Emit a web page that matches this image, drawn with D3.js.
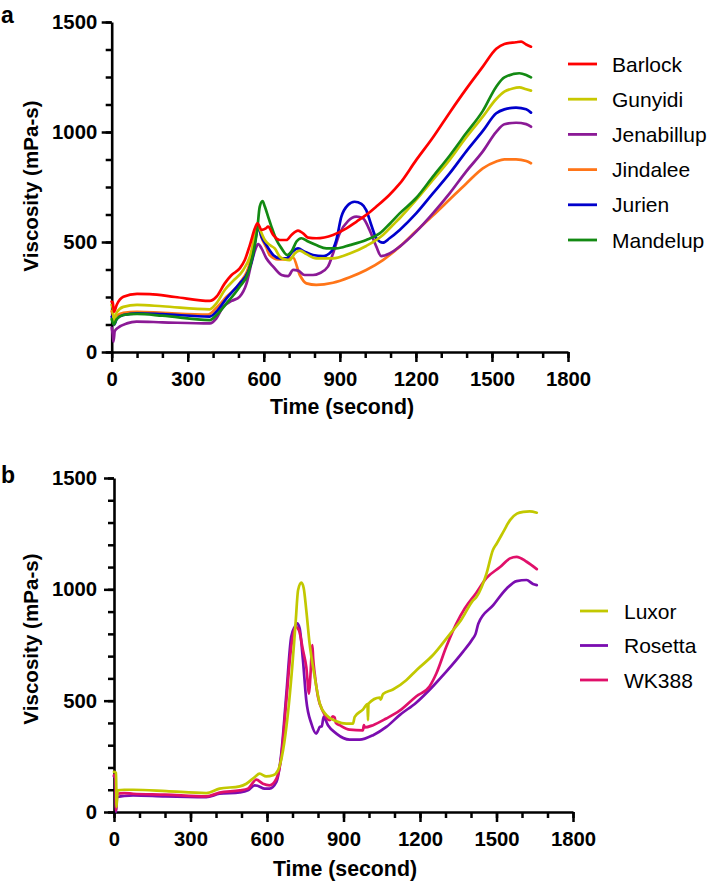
<!DOCTYPE html>
<html><head><meta charset="utf-8">
<script src="https://cdn.jsdelivr.net/npm/d3@7"></script>
<style>
body{margin:0;background:#fff;}
svg{display:block;font-family:"Liberation Sans",Arial,sans-serif;}
</style></head>
<body><svg id="c" width="709" height="886"></svg>
<script>
// ---------- Panel a data: [time (s), viscosity (mPa-s)] ----------
const seriesA = ["Barlock","Gunyidi","Jenabillup","Jindalee","Jurien","Mandelup"];
const colorsA = ["#ff0000","#c8c800","#8b1a96","#ff7518","#0000cc","#138a13"];
const barlock = [[0,229],[4,225],[9,183],[20,215],[46,251],[100,264],[150,263],[250,250],[387,232],[413,251],[446,312],[473,350],[505,380],[525,418],[545,486],[565,562],[575,585],[591,555],[608,562],[617,570],[637,532],[663,509],[689,509],[709,532],[735,552],[755,539],[775,520],[807,517],[873,532],[926,562],[965,592],[1004,623],[1044,661],[1096,715],[1136,765],[1201,872],[1267,975],[1333,1088],[1398,1195],[1464,1297],[1517,1378],[1549,1400],[1595,1408],[1615,1411],[1635,1398],[1654,1388]];
const gunyidi = [[0,214],[4,200],[9,125],[20,180],[46,205],[100,214],[200,208],[387,194],[413,221],[446,282],[479,323],[519,373],[545,433],[565,524],[578,577],[584,560],[604,509],[624,486],[643,471],[663,433],[683,421],[702,418],[722,448],[742,461],[768,445],[807,426],[873,426],[939,448],[1004,482],[1070,532],[1109,577],[1136,608],[1201,691],[1267,782],[1333,873],[1398,975],[1464,1070],[1517,1150],[1549,1183],[1582,1198],[1608,1203],[1635,1194],[1654,1188]];
const jenabillup = [[0,110],[4,80],[7,47],[12,95],[25,110],[60,130],[98,138],[200,135],[387,130],[413,153],[440,206],[473,232],[505,252],[532,312],[551,403],[568,471],[578,491],[591,471],[610,426],[637,388],[670,350],[696,345],[716,373],[735,370],[761,350],[794,350],[820,358],[853,388],[873,448],[899,539],[932,595],[965,615],[991,608],[1017,555],[1044,479],[1063,436],[1096,448],[1136,479],[1201,547],[1267,630],[1333,721],[1398,820],[1464,912],[1517,1001],[1549,1035],[1595,1042],[1635,1036],[1654,1024]];
const jindalee = [[0,185],[5,170],[9,145],[20,165],[46,178],[100,183],[200,178],[380,170],[413,200],[453,251],[505,313],[545,404],[564,524],[577,577],[591,520],[610,475],[623,441],[656,421],[689,421],[715,430],[742,350],[768,312],[807,305],[873,315],[939,340],[1004,373],[1070,418],[1136,479],[1201,550],[1267,620],[1333,693],[1398,765],[1464,835],[1517,866],[1549,876],[1595,876],[1635,868],[1654,858]];
const jurien = [[0,160],[5,150],[9,123],[20,150],[46,168],[100,176],[200,172],[387,161],[413,183],[453,244],[505,312],[538,365],[558,441],[571,539],[578,570],[591,524],[610,486],[637,441],[663,426],[689,426],[713,456],[735,471],[761,456],[794,441],[834,436],[866,456],[886,509],[906,615],[932,668],[958,683],[985,673],[1004,645],[1024,577],[1044,517],[1070,497],[1096,517],[1136,555],[1201,630],[1267,721],[1333,812],[1398,911],[1464,1005],[1517,1085],[1549,1103],[1595,1111],[1635,1103],[1654,1088]];
const mandelup = [[0,150],[8,125],[20,150],[46,168],[100,173],[200,165],[387,145],[413,168],[453,221],[505,297],[538,358],[558,448],[574,555],[584,661],[595,686],[604,661],[617,615],[630,570],[650,509],[670,471],[692,441],[709,456],[729,502],[748,517],[775,502],[807,486],[847,471],[886,471],[939,486],[1004,509],[1057,539],[1096,582],[1136,630],[1201,700],[1267,797],[1333,892],[1398,994],[1464,1096],[1517,1206],[1549,1248],[1608,1267],[1635,1259],[1654,1248]];
const dataA = [barlock,gunyidi,jenabillup,jindalee,jurien,mandelup];

// ---------- Panel b data ----------
const seriesB = ["Luxor","Rosetta","WK388"];
const colorsB = ["#c2c800","#7a0db0","#e0106a"];
const luxor = [[0,180],[8,175],[10,22],[14,97],[40,100],[75,100],[205,94],[362,85],[414,105],[493,115],[519,127],[552,157],[571,172],[597,160],[624,165],[643,187],[663,277],[682,442],[699,652],[712,847],[722,997],[735,1030],[744,1005],[754,907],[767,757],[787,607],[807,487],[833,435],[872,408],[911,397],[937,397],[944,427],[976,460],[994,485],[996,412],[998,487],[1042,514],[1046,505],[1055,530],[1094,550],[1146,592],[1187,638],[1251,705],[1318,800],[1360,860],[1408,950],[1422,967],[1461,1072],[1486,1177],[1501,1206],[1530,1265],[1553,1311],[1580,1340],[1605,1348],[1630,1350],[1658,1344]];
const rosetta = [[0,160],[6,150],[8,0],[12,67],[40,72],[75,75],[200,70],[362,67],[414,82],[493,88],[525,97],[552,120],[565,117],[591,105],[610,105],[637,135],[656,262],[676,532],[695,787],[709,832],[718,847],[728,825],[741,682],[754,502],[774,397],[793,352],[800,365],[807,382],[815,385],[822,427],[839,390],[872,352],[924,325],[963,325],[1016,345],[1068,382],[1120,435],[1186,492],[1251,565],[1303,630],[1369,720],[1408,780],[1418,800],[1429,847],[1488,930],[1540,1004],[1579,1037],[1618,1042],[1643,1024],[1658,1019]];
const wk388 = [[0,165],[6,150],[8,7],[12,82],[40,85],[75,82],[200,78],[362,70],[414,87],[493,97],[525,105],[558,145],[584,127],[610,120],[637,150],[656,247],[676,502],[695,742],[712,832],[725,817],[741,727],[754,652],[765,532],[770,607],[778,750],[781,690],[787,622],[800,517],[820,450],[846,412],[858,430],[865,425],[870,400],[885,390],[924,370],[976,367],[980,390],[983,380],[1016,390],[1068,420],[1120,455],[1186,520],[1238,565],[1264,622],[1303,742],[1342,845],[1376,915],[1421,985],[1460,1050],[1514,1100],[1553,1139],[1579,1146],[1618,1124],[1658,1091]];
const dataB = [luxor,rosetta,wk388];

const xTicksMajor = [0,300,600,900,1200,1500,1800];
const yTicksMajor = [0,500,1000,1500];

const svg = d3.select("#c");
const FONT = '"Liberation Sans",Arial,sans-serif';

function panel(cfg){
  const {x, y, data, names, colors, yMinorStep, yPad, letter, letterY, xTitleX, xTitleY, yTitleY, leg, drawOrder} = cfg;
  const g = svg.append("g");
  const xMinor = d3.range(0,1801,100);
  const yMinor = d3.range(0,1501,yMinorStep);
  const y0 = y(0), x0 = x(0);
  g.append("g").attr("transform",`translate(0,${y0})`)
    .call(d3.axisBottom(x).tickValues(xMinor).tickSize(6).tickSizeOuter(0).tickFormat(""))
    .call(s=>s.select(".domain").remove());
  g.append("g").attr("transform",`translate(${x0},0)`)
    .call(d3.axisLeft(y).tickValues(yMinor).tickSize(6).tickSizeOuter(0).tickFormat(""))
    .call(s=>s.select(".domain").remove());
  g.append("g").attr("transform",`translate(0,${y0})`)
    .call(d3.axisBottom(x).tickValues(xTicksMajor).tickSize(10).tickSizeOuter(0).tickPadding(9.5).tickFormat(d3.format("d")));
  g.append("g").attr("transform",`translate(${x0},0)`)
    .call(d3.axisLeft(y).tickValues(yTicksMajor).tickSize(10).tickSizeOuter(0).tickPadding(yPad).tickFormat(d3.format("d")));
  g.selectAll(".tick line").attr("stroke","#000").attr("stroke-width",2.5);
  g.selectAll(".domain").attr("stroke","#000").attr("stroke-width",2.6);
  g.selectAll(".tick text").attr("font-family",FONT).attr("font-size",20.3).attr("font-weight","bold").attr("fill","#000");
  const line = d3.line().x(d=>x(d[0])).y(d=>y(d[1])).curve(d3.curveMonotoneX);
  drawOrder.forEach(i=>{
    g.append("path").datum(data[i]).attr("d",line).attr("fill","none")
      .attr("stroke",colors[i]).attr("stroke-width",2.7).attr("stroke-linejoin","round").attr("stroke-linecap","round");
  });
  g.append("text").attr("x",xTitleX).attr("y",xTitleY).attr("text-anchor","middle")
    .attr("font-size",21.3).attr("font-weight","bold").text("Time (second)");
  g.append("text").attr("transform",`translate(38,${yTitleY}) rotate(-90)`).attr("text-anchor","middle")
    .attr("font-size",20.6).attr("font-weight","bold").text("Viscosity (mPa-s)");
  g.append("text").attr("x",1).attr("y",letterY).attr("font-size",23).attr("font-weight","bold").text(letter);
  names.forEach((n,i)=>{
    const ly = leg.y + i*leg.dy;
    g.append("line").attr("x1",leg.x1).attr("x2",leg.x2).attr("y1",ly).attr("y2",ly)
      .attr("stroke",colors[i]).attr("stroke-width",2.8);
    g.append("text").attr("x",leg.tx).attr("y",ly+7.5).attr("font-size",21).text(n);
  });
}

panel({
  x: d3.scaleLinear([0,1800],[111.7,568]),
  y: d3.scaleLinear([0,1500],[352,22]),
  data: dataA, names: seriesA, colors: colorsA, yMinorStep:125, yPad:4.5,
  letter:"a", letterY:23, xTitleX:342, xTitleY:414, yTitleY:186,
  leg:{x1:568,x2:597,tx:612,y:64,dy:35.2},
  drawOrder:[3,2,4,1,5,0]
});
panel({
  x: d3.scaleLinear([0,1800],[114,573]),
  y: d3.scaleLinear([0,1500],[812,478]),
  data: dataB, names: seriesB, colors: colorsB, yMinorStep:100, yPad:7,
  letter:"b", letterY:483, xTitleX:345, xTitleY:876, yTitleY:639,
  leg:{x1:580,x2:608,tx:624,y:611,dy:34.5},
  drawOrder:[1,2,0]
});
</script></body></html>
